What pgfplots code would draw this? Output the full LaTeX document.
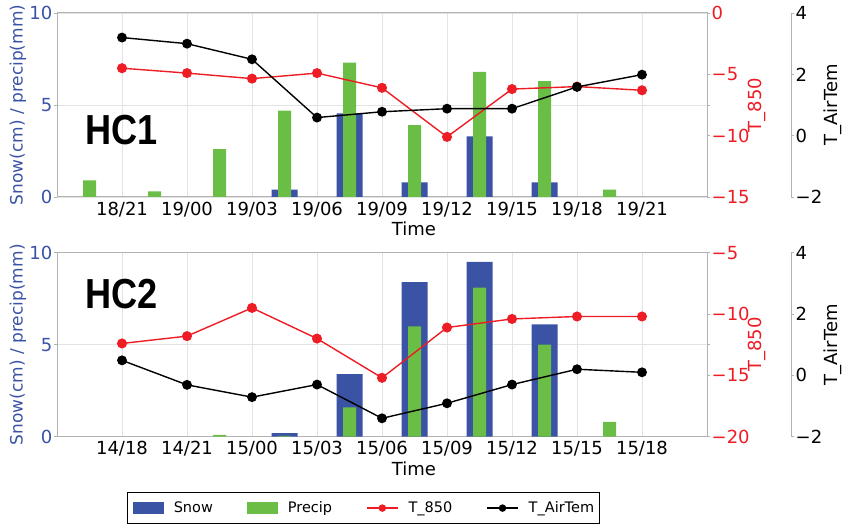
\documentclass[border=0pt]{standalone}
\usepackage{fontspec}
\setmainfont{DejaVu Sans}
\newfontfamily\hcfont{Liberation Sans}
\usepackage{pgfplots}
\pgfplotsset{compat=1.18}

\definecolor{snowblue}{HTML}{3A53A4}
\definecolor{precgreen}{HTML}{6ABD45}
\definecolor{tred}{HTML}{EE1C25}

\tikzset{hclabel/.style={anchor=west, xscale=0.86, inner sep=0pt,
    font=\hcfont\bfseries\fontsize{42}{46}\selectfont}}

\pgfplotsset{
  common/.style={
    scale only axis, height=184pt,
    ymin=0, ymax=10,
    axis line style={gray!60, line width=1pt},
    tick style={gray!60, line width=0.8pt},
    major tick length=3pt, tick align=outside,
    tick label style={font=\fontsize{18}{21}\selectfont, inner sep=1.5pt},
    label style={font=\fontsize{18}{21}\selectfont},
  },
  mainax/.style={
    common, width=650pt, xmin=-1, xmax=9,
    xtick={0,...,8}, ytick={0,5,10}, yticklabels={0,5,10},
    xtick style={draw=none},
    grid=major, grid style={gray!22, line width=0.8pt},
    y tick label style={text=snowblue},
    ylabel={Snow(cm) / precip(mm)},
    ylabel style={text=snowblue, font=\fontsize{17}{20}\selectfont,
      at={(axis description cs:-0.06,0.5)}, anchor=center},
    xlabel={Time},
    xlabel style={at={(axis description cs:0.549,-0.174)}, anchor=center},
  },
  redax/.style={
    common, width=650pt, xmin=-1, xmax=9,
    axis x line=none, axis y line*=right,
    y tick label style={text=tred},
    ylabel={T\_850},
    ylabel style={text=tred, at={(axis description cs:1.077,0.5)}, anchor=center},
  },
  blackax/.style={
    common, width=734pt, xmin=-1, xmax=10.2923,
    axis x line=none, axis y line*=right,
    ymin=-2, ymax=4, ytick={-2,0,2,4}, yticklabels={−2,0,2,4},
    ylabel={T\_AirTem},
    ylabel style={at={(axis description cs:1.0572,0.5)}, anchor=center},
  },
  snowbar/.style={ybar, bar width=0.4, bar shift=0pt, fill=snowblue, draw=none,
    area legend, legend image code/.code={\fill[snowblue] (0pt,-6pt) rectangle (31pt,6pt);
      \path (-2pt,0pt) (39pt,0pt);}},
  precbar/.style={ybar, bar width=0.2, bar shift=0pt, fill=precgreen, draw=none,
    area legend, legend image code/.code={\fill[precgreen] (0pt,-6pt) rectangle (31pt,6pt);
      \path (-2pt,0pt) (39pt,0pt);}},
  redline/.style={tred, line width=1.4pt, mark=*, mark size=4.3pt, mark options={fill=tred, draw=tred}},
  blackline/.style={black, line width=1.4pt, mark=*, mark size=4.2pt, mark options={fill=black}},
  linelegend/.style={legend image code/.code={
    \draw[##1, mark repeat=2, mark phase=2, mark size=3pt] plot coordinates {(0pt,0pt) (15.5pt,0pt) (31pt,0pt)};
    \path (-2pt,0pt) (39pt,0pt);}},
}

\begin{document}
\begin{tikzpicture}[font=\fontsize{18}{21}\selectfont]
\useasboundingbox (0,0) rectangle (842pt,-526pt);

% ---------------- HC1 ----------------
\begin{axis}[mainax, at={(57pt,-197pt)}, anchor=south west,
  xticklabels={18/21,19/00,19/03,19/06,19/09,19/12,19/15,19/18,19/21}]
\addplot[snowbar] coordinates {(2.5,0.4) (3.5,4.55) (4.5,0.8) (5.5,3.3) (6.5,0.8)};
\addplot[precbar] coordinates {(-0.5,0.9) (0.5,0.3) (1.5,2.6) (2.5,4.7) (3.5,7.3)
  (4.5,3.9) (5.5,6.8) (6.5,6.3) (7.5,0.4)};
\node[hclabel] at (rel axis cs:0.043,0.364) {HC1};
\end{axis}
\begin{axis}[redax, at={(57pt,-197pt)}, anchor=south west,
  ymin=-15, ymax=0, ytick={-15,-10,-5,0}, yticklabels={−15,−10,−5,0}]
\addplot[redline] coordinates {(0,-4.5) (1,-4.9) (2,-5.35) (3,-4.9) (4,-6.1)
  (5,-10.1) (6,-6.2) (7,-6.0) (8,-6.3)};
\end{axis}
\begin{axis}[blackax, at={(57pt,-197pt)}, anchor=south west]
\addplot[blackline] coordinates {(0,3.2) (1,3.0) (2,2.49) (3,0.59) (4,0.78)
  (5,0.88) (6,0.88) (7,1.59) (8,1.99)};
\end{axis}

% ---------------- HC2 ----------------
\begin{axis}[mainax, at={(57pt,-436.7pt)}, anchor=south west,
  xticklabels={14/18,14/21,15/00,15/03,15/06,15/09,15/12,15/15,15/18},
  legend columns=4,
  legend style={at={(axis description cs:0.4715,-0.388)}, anchor=center,
    draw=black, line width=1pt, font=\fontsize{14.5}{17}\selectfont,
    inner xsep=3pt, inner ysep=7pt,
    /tikz/every even column/.append style={column sep=30pt}}]
\addplot[snowbar] coordinates {(2.5,0.2) (3.5,3.4) (4.5,8.4) (5.5,9.5) (6.5,6.1)};
\addlegendentry{Snow}
\addplot[precbar] coordinates {(1.5,0.1) (2.5,0.05) (3.5,1.6) (4.5,6.0) (5.5,8.1)
  (6.5,5.0) (7.5,0.8)};
\addlegendentry{Precip}
\addlegendimage{redline, line width=1.4pt, linelegend}
\addlegendentry{T\_850}
\addlegendimage{blackline, line width=1.4pt, linelegend}
\addlegendentry{T\_AirTem}
\node[hclabel] at (rel axis cs:0.043,0.777) {HC2};
\end{axis}
\begin{axis}[redax, at={(57pt,-436.7pt)}, anchor=south west,
  ymin=-20, ymax=-5, ytick={-20,-15,-10,-5}, yticklabels={−20,−15,−10,−5}]
\addplot[redline] coordinates {(0,-12.4) (1,-11.8) (2,-9.5) (3,-12.0) (4,-15.2)
  (5,-11.1) (6,-10.4) (7,-10.2) (8,-10.2)};
\end{axis}
\begin{axis}[blackax, at={(57pt,-436.7pt)}, anchor=south west]
\addplot[blackline] coordinates {(0,0.49) (1,-0.31) (2,-0.71) (3,-0.30) (4,-1.4)
  (5,-0.91) (6,-0.3) (7,0.2) (8,0.1)};
\end{axis}
\end{tikzpicture}
\end{document}
